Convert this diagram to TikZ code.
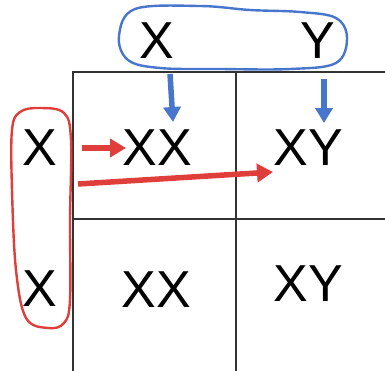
\documentclass[tikz,border=0pt]{standalone}
\usepackage{fontspec}
\setmainfont{Liberation Sans}
\usetikzlibrary{arrows.meta}
\definecolor{penblue}{RGB}{72,118,204}
\definecolor{penred}{RGB}{224,62,58}
\tikzset{
  grid line/.style={draw=black!80, line width=1.3pt},
  allele/.style={font=\fontsize{52}{52}\selectfont, inner sep=0pt, anchor=center},
  ring/.style={line width=2.4pt},
  bluearrow/.style={draw=penblue, line width=5.5pt, -{Triangle[length=15pt,width=17pt]}},
  redarrow/.style={draw=penred, line width=5.5pt, -{Triangle[length=16pt,width=18pt]}},
}
\begin{document}
\begin{tikzpicture}[x=1pt,y=-1pt]
\useasboundingbox (0,0) rectangle (385,370);
% Punnett grid
\draw[grid line] (73,380) -- (73,72) -- (390,72);
\draw[grid line] (236,72) -- (236,380);
\draw[grid line] (73,219) -- (390,219);
% parent alleles
\node[allele] (px) at (157,41) {X};
\node[allele] (py) at (318,41) {Y};
\node[allele] (mx1) at (40,148) {X};
\node[allele] (mx2) at (40,289) {X};
% offspring genotypes
\node[allele] (c11) at (157,148) {XX};
\node[allele] (c12) at (308,148) {XY};
\node[allele] (c21) at (156,290) {XX};
\node[allele] (c22) at (308,284) {XY};
% hand-drawn loops around the parent alleles
\draw[penblue, ring] plot[smooth cycle, tension=0.6] coordinates {
  (135,9) (200,6) (250,10) (300,12) (336,18) (347,38)
  (336,63) (290,69) (220,69) (160,68) (128,60) (119,36)};
\draw[penred, ring] plot[smooth cycle, tension=0.6] coordinates {
  (40,108) (64,113) (71,140) (70,220) (70,300) (64,323)
  (48,328) (26,318) (16,270) (12,190) (12,130) (20,112)};
% connectors
\coordinate (b1) at (170,74);
\coordinate (b2) at (324,79);
\draw[bluearrow] (b1) -- (173,122);
\draw[bluearrow] (b2) -- (324,123);
\coordinate (r1) at (82,148);
\coordinate (r2) at (78,184);
\draw[redarrow] (r1) -- (126,148);
\draw[redarrow] (r2) -- (273,172);
\end{tikzpicture}
\end{document}
